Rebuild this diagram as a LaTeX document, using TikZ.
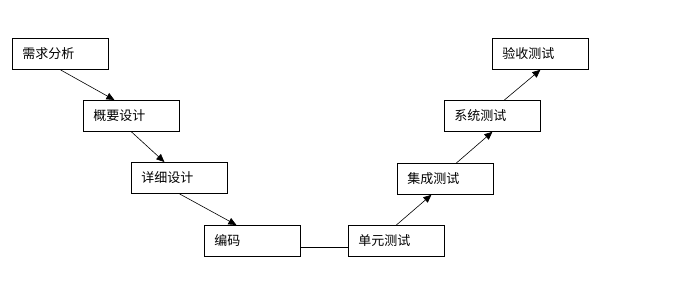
\documentclass[tikz,border=0pt]{standalone}
\usepackage{fontspec}
\newfontfamily\cjk{Noto Sans CJK SC}
\usepackage{tikz}
\usetikzlibrary{positioning,arrows.meta}
\tikzset{
    stage/.style={draw, line width=0.8pt, anchor=north west, minimum height=31pt, text width=76pt, inner xsep=10pt, align=left, font=\cjk\fontsize{13}{15}\selectfont}, % 方框
    link/.style={draw, line width=0.6pt, -{Triangle[length=8pt,width=7pt]}} % 带箭头的连线
}

\begin{document}
\begin{tikzpicture}[x=1pt,y=-1pt]
	\useasboundingbox[fill=white] (0,0) rectangle (696,285);

	\node (req) [stage] at (12,38) {需求分析};
	\node (hld) [stage] at (83,100) {概要设计};
	\node (dd) [stage] at (131,162) {详细设计};
	\node (code) [stage] at (204,225) {编码};
	\node (ut) [stage] at (348,225) {单元测试};
	\node (it) [stage] at (397,163) {集成测试};
	\node (st) [stage] at (444,100) {系统测试};
	\node (at) [stage] at (492,38) {验收测试};

	\draw[link] (req.south) -- ([xshift=-17pt]hld.north);
	\draw[link] (hld.south) -- ([xshift=-15pt]dd.north);
	\draw[link] (dd.south) -- ([xshift=-16pt]code.north);
	\draw[line width=0.6pt] ([yshift=-6pt]code.east) -- ([yshift=-6pt]ut.west);
	\draw[link] (ut.north) -- ([xshift=-14pt]it.north |- it.south);
	\draw[link] ([xshift=11pt]it.north) -- (st.south);
	\draw[link] ([xshift=12pt]st.north) -- (at.south);
\end{tikzpicture}
\end{document}
